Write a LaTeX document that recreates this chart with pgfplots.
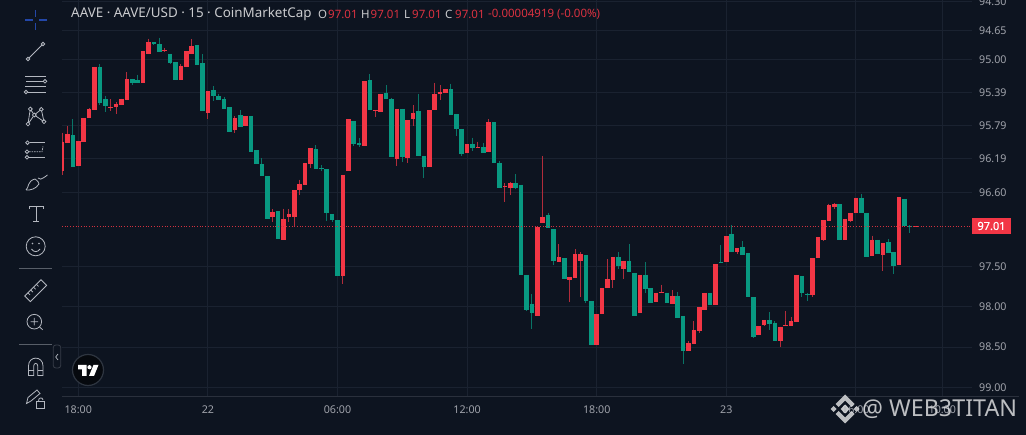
\documentclass[border=0pt]{standalone}
\usepackage{fontspec}
\setmainfont{Noto Sans}
\newfontfamily\plabel[FakeBold=0.5]{Noto Sans}
\usepackage{pgfplots}
\usepackage{pgfplotstable}
\pgfplotsset{compat=1.18}
\definecolor{bg}{HTML}{0D1420}
\definecolor{gridc}{HTML}{1A2230}
\definecolor{up}{HTML}{089981}
\definecolor{dn}{HTML}{F23645}
\definecolor{axt}{HTML}{A0A3AB}
\definecolor{icon}{HTML}{B4B8C0}
\definecolor{cross}{HTML}{2347A8}
\definecolor{rulec}{HTML}{2A303C}
\pgfplotstableread{
x lo bl bh hi
-1 95.71 95.90 96.28 96.28
4 95.05 95.08 95.51 95.54
5 95.43 95.47 95.55 95.62
10 95.22 95.23 95.27 95.30
11 95.17 95.24 95.27 95.27
14 94.78 94.78 94.80 94.82
15 94.73 94.81 94.90 94.90
17 94.92 94.92 95.04 95.05
18 95.02 95.02 95.24 95.24
22 94.82 94.82 95.06 95.06
23 94.93 95.04 95.61 95.61
25 95.31 95.36 95.43 95.49
26 95.40 95.43 95.48 95.48
27 95.44 95.47 95.58 95.58
28 95.56 95.56 95.86 95.86
30 95.60 95.66 95.81 95.81
32 95.67 95.67 96.10 96.10
33 96.08 96.08 96.25 96.25
34 96.18 96.25 96.39 96.39
35 96.40 96.40 96.92 96.92
37 96.82 96.82 97.16 97.16
44 96.02 96.07 96.31 96.31
45 96.26 96.30 96.31 96.33
46 96.31 96.31 96.85 96.94
47 96.86 96.86 96.93 96.96
48 96.93 96.93 97.61 97.61
51 95.73 95.73 96.01 96.03
52 95.94 95.99 96.02 96.04
54 95.16 95.24 95.59 95.59
57 95.30 95.39 95.46 95.46
58 95.45 95.47 96.17 96.17
60 95.58 95.58 96.17 96.22
63 95.40 95.61 96.15 96.15
64 96.15 96.15 96.28 96.41
69 95.28 95.35 95.66 95.66
70 95.65 95.65 95.82 95.91
71 95.82 95.82 96.13 96.15
73 95.93 96.01 96.06 96.09
75 95.99 96.04 96.12 96.12
77 95.75 95.75 96.24 96.24
78 96.21 96.23 96.54 96.54
81 96.37 96.48 96.54 96.55
82 96.50 96.50 97.60 97.60
83 97.60 97.60 98.04 98.05
84 97.84 97.96 98.07 98.27
87 96.84 96.87 97.03 97.03
88 97.04 97.04 97.43 97.48
90 97.40 97.40 97.65 97.65
94 97.36 97.36 97.93 97.95
95 97.92 97.92 98.47 98.47
100 97.32 97.39 97.50 97.53
102 97.22 97.43 97.57 97.57
103 97.58 97.58 98.11 98.11
105 97.45 97.60 97.78 97.82
106 97.76 97.76 97.95 97.95
109 97.82 97.82 97.95 97.95
111 97.81 97.86 98.13 98.13
112 98.11 98.11 98.54 98.71
117 97.83 97.83 97.97 97.97
119 97.24 97.44 97.45 97.45
121 96.99 97.10 97.33 97.33
123 97.19 97.26 97.36 97.36
124 97.34 97.34 97.87 97.87
125 97.88 97.88 98.37 98.38
128 98.06 98.16 98.21 98.28
129 98.17 98.19 98.42 98.42
134 97.62 97.62 97.83 97.88
135 97.82 97.84 97.85 97.92
141 96.74 96.74 97.17 97.17
145 96.61 96.66 96.84 96.84
146 96.84 96.84 97.38 97.38
148 97.17 97.17 97.35 97.35
150 97.16 97.20 97.34 97.34
151 97.33 97.33 97.50 97.59
153 96.67 96.67 97.00 97.00
154 96.99 97.00 97.01 97.09
}\grn
\pgfplotstableread{
x lo bl bh hi
-3 95.87 95.98 96.33 96.38
-2 95.79 95.89 95.99 95.99
0 95.97 95.97 96.27 96.27
1 95.69 95.69 95.98 95.98
2 95.57 95.58 95.69 95.69
3 95.08 95.08 95.59 95.59
6 95.47 95.56 95.57 95.61
7 95.50 95.52 95.56 95.65
8 95.46 95.46 95.54 95.54
9 95.14 95.23 95.48 95.48
12 94.89 94.89 95.27 95.27
13 94.74 94.78 94.92 94.92
16 94.85 94.88 94.89 94.90
19 95.05 95.07 95.24 95.24
20 94.89 94.89 95.08 95.08
21 94.75 94.83 94.92 94.92
24 95.37 95.37 95.64 95.71
29 95.67 95.69 95.84 95.88
31 95.67 95.67 95.79 95.79
36 96.80 96.83 96.89 96.96
38 96.79 96.92 97.17 97.17
39 96.80 96.86 96.89 96.96
40 96.57 96.57 96.89 97.00
41 96.44 96.49 96.57 96.63
42 96.24 96.24 96.50 96.50
43 96.06 96.06 96.25 96.30
49 96.38 96.38 97.62 97.71
50 95.71 95.71 96.34 96.34
53 95.25 95.25 96.03 96.03
55 95.60 95.60 95.61 95.68
56 95.40 95.40 95.62 95.62
59 95.58 95.58 96.19 96.27
61 95.72 95.72 96.18 96.24
62 95.54 95.64 95.70 95.79
65 95.60 95.60 96.28 96.28
66 95.27 95.41 95.60 95.60
67 95.30 95.38 95.41 95.48
68 95.35 95.35 95.39 95.39
72 96.01 96.01 96.12 96.12
74 95.98 96.04 96.05 96.06
76 95.71 95.75 96.11 96.11
79 96.48 96.51 96.52 96.71
80 96.47 96.48 96.54 96.63
85 97.02 97.02 98.11 98.11
86 96.15 96.89 96.97 96.97
89 97.23 97.39 97.45 97.45
91 97.63 97.63 97.67 97.94
92 97.29 97.35 97.64 97.64
93 97.33 97.35 97.43 97.88
96 98.09 98.09 98.47 98.47
97 97.77 97.77 98.09 98.09
98 97.41 97.65 97.77 97.77
99 97.38 97.38 97.67 97.76
101 97.43 97.43 97.53 97.65
104 97.60 97.60 98.08 98.08
107 97.82 97.82 97.94 97.94
108 97.72 97.81 97.83 97.83
110 97.79 97.86 97.96 97.96
113 98.42 98.44 98.54 98.54
114 98.17 98.28 98.45 98.45
115 98.00 98.00 98.29 98.32
116 97.82 97.82 98.03 98.03
118 97.47 97.47 97.97 97.97
120 97.13 97.13 97.45 97.45
122 97.27 97.27 97.33 97.35
126 98.23 98.23 98.35 98.35
127 98.16 98.16 98.22 98.23
130 98.24 98.24 98.42 98.49
131 98.05 98.22 98.23 98.23
132 98.12 98.17 98.23 98.23
133 97.60 97.60 98.18 98.18
136 97.40 97.40 97.85 97.87
137 97.14 97.14 97.40 97.40
138 96.93 96.93 97.17 97.18
139 96.73 96.75 96.94 96.94
140 96.72 96.73 96.77 96.80
142 96.92 96.92 97.17 97.17
143 96.84 96.84 96.94 96.96
144 96.66 96.66 96.84 96.84
147 97.12 97.17 97.37 97.37
149 97.21 97.21 97.36 97.55
152 96.65 96.65 97.48 97.48
155 97.01 97.01 97.02 97.02
}\rdd
% one wick and one body per table row, drawn through the axis
\newcommand\candles[3]{%
  \pgfplotstablegetrowsof{#1}\pgfmathtruncatemacro\nr{\pgfplotsretval-1}%
  \foreach \r in {0,...,\nr}{%
    \pgfplotstablegetelem{\r}{x}\of{#1}\let\cx\pgfplotsretval
    \pgfplotstablegetelem{\r}{lo}\of{#1}\let\clo\pgfplotsretval
    \pgfplotstablegetelem{\r}{bl}\of{#1}\let\cbl\pgfplotsretval
    \pgfplotstablegetelem{\r}{bh}\of{#1}\let\cbh\pgfplotsretval
    \pgfplotstablegetelem{\r}{hi}\of{#1}\let\chi\pgfplotsretval
    \edef\temp{%
      \noexpand\addplot[forget plot,mark=none,draw=#3,line width=1pt] coordinates {(\cx,\clo)(\cx,\chi)};
      \noexpand\addplot[forget plot,mark=none,draw=#2,line width=4.6pt] coordinates {(\cx,\cbl)(\cx,\cbh)};
    }\temp
  }%
}
\begin{document}
\begin{tikzpicture}[x=1pt,y=1pt]
\useasboundingbox (0,0) rectangle (1026,435);
\clip (0,0) rectangle (1026,435);
\fill[bg] (0,0) rectangle (1026,435);
\begin{axis}[
  at={(62pt,39pt)},anchor=south west,
  width=910pt,height=396pt,scale only axis,
  xmin=-3.0185,xmax=165.5,
  y coord trafo/.code={\pgfmathparse{1000*ln(#1)}},
  y dir=reverse,ymin=94.284,ymax=99.112,
  axis line style={draw=none},
  major tick length=0pt,
  minor tick num=0,
  grid=major,
  grid style={gridc,line width=1pt},
  xtick={0,24,48,72,96,120,144,160},
  xticklabels={18:00,22,06:00,12:00,18:00,23,06:00,10:00},
  ytick={94.30,94.65,95.00,95.39,95.79,96.19,96.60,97.50,98.00,98.50,99.00},
  yticklabels={94.30,94.65,95.00,95.39,95.79,96.19,96.60,97.50,98.00,98.50,99.00},
  yticklabel pos=right,
  y tick label style={anchor=west,font=\fontsize{10.7}{12}\selectfont,text=axt,xshift=7pt,inner xsep=0pt},
  x tick label style={anchor=north,font=\fontsize{10.7}{12}\selectfont,text=axt,yshift=-9.5pt,inner ysep=0pt},
]
\candles{\grn}{up}{up!72!bg}
\candles{\rdd}{dn}{dn!72!bg}
\addplot[forget plot,dn!85!bg,line width=1pt,dash pattern=on 1pt off 1.7pt] coordinates {(-3.0185,97.01)(165.5,97.01)};
\end{axis}
\begin{scope}[shift={(0,435)},yscale=-1]
% lower rule
\draw[color=rulec,line width=.8pt] (62,396) -- (1019,396);
% price label
\fill[dn] (972,218.3) rectangle (1011,233.7);
\node[text=white,font=\plabel\fontsize{11}{12}\selectfont,inner sep=0pt] at (991.5,226) {97.01};
% header
\node[anchor=west,text=white!78!bg,font=\fontsize{13.4}{15}\selectfont,inner sep=0pt] at (71,14) {AAVE · AAVE/USD · 15 · CoinMarketCap};
\foreach \xa/\la/\xb in {318/O/328,361/H/370.5,404/L/412,445/C/455}{
  \node[anchor=west,text=white!78!bg,font=\fontsize{11.5}{14}\selectfont,inner sep=0pt] at (\xa,14) {\la};
  \node[anchor=west,text=dn!90!bg,font=\fontsize{11.5}{14}\selectfont,inner sep=0pt] at (\xb,14) {97.01};
}
\node[anchor=west,text=dn!90!bg,font=\fontsize{11.5}{14}\selectfont,inner sep=0pt] at (488,14) {-0.00004919 (-0.00\%)};
% toolbar
\draw[color=cross,line width=1.3pt] (25,20)--(33,20) (39,20)--(47,20) (35.8,10)--(35.8,17) (35.8,23)--(35.8,30);
\begin{scope}[draw=icon,line width=.8pt]
\draw (29.2,57.8)--(41.8,45.2);
\draw (28,59) circle (1.8) (43,44) circle (1.8);
\draw (25,76)--(46,76) (26,81.3)--(43,81.3) (25,86.7)--(46,86.7) (28,92)--(46,92);
\draw (45,81.3) circle (1.8) (26,92) circle (1.8);
\draw (30.3,109)--(28,124)--(34.3,115)--(30.3,109) (34.3,115)--(41.3,109.3)--(44,121.7)--(34.3,115);
\foreach \p in {(30.3,109),(41.3,109.3),(34.3,115),(28,124),(44,121.7)} \filldraw[fill=bg] \p circle (1.9);
\draw (29.5,142.7)--(45,142.7) (29,157.3)--(45,157.3);
\draw[dash pattern=on 1.5pt off 1pt] (29,151.7)--(42,151.7)--(43,146.5);
\draw (27.5,142.7) circle (1.8) (27,151.7) circle (1.8) (27,157.3) circle (1.8);
\draw (26,190) .. controls (29,188) and (27,181) .. (35,179) .. controls (38,181) and (39,183) .. (39,184) .. controls (36,189) and (30,190.5) .. (26,190) (38,178) .. controls (39,180) and (41,180) .. (47.5,175);
\draw (29,209)--(29,206)--(43,206)--(43,209) (36,206)--(36,221) (33,221)--(39,221);
\draw (35.7,246.3) circle (9.5);
\fill[icon] (32.5,243.5) circle (.9) (39,243.5) circle (.9);
\draw (31.5,249) .. controls (33.5,252.5) and (38,252.5) .. (40,249);
\begin{scope}[shift={(35.7,290.7)},rotate=-45]
\draw (-11.5,-4) rectangle (11.5,4);
\foreach \t in {-7,-3,1,5} \draw (\t,-4)--(\t,-1);
\end{scope}
\draw (34.3,321.7) circle (7.3) (34.3,318)--(34.3,325.4) (30.6,321.7)--(38,321.7) (39.5,326.9)--(42.7,329.8);
\draw (28.5,375.5)--(28.5,366) .. controls (28.5,355.5) and (43,355.5) .. (43,366)--(43,375.5)--(37.8,375.5)--(37.8,366) .. controls (37.8,362.5) and (33.7,362.5) .. (33.7,366)--(33.7,375.5)--cycle (28.5,370.5)--(33.7,370.5) (37.8,370.5)--(43,370.5);
\draw (26.5,403.5)--(28,397.5)--(37,390)--(40,393.5)--(31,401)--cycle;
\draw (36.5,401.5) rectangle (44.5,408.5) (38.5,401.5) .. controls (38,397) and (43,397) .. (43,400);
\end{scope}
\draw[color=icon!45!bg,line width=.8pt] (19,268.3)--(52,268.3) (19,344.3)--(52,344.3);
\draw[color=icon!25!bg,line width=.8pt,rounded corners=2.5pt] (53.3,345) rectangle (60.7,368);
\draw[color=icon,line width=.7pt] (58,354)--(55.7,357)--(58,360);
% logo
\filldraw[fill=black!55!bg,draw=icon!20!bg,line width=1.2pt] (88,370) circle (15.5);
\fill[white] (78,365)--(86.5,365)--(86.5,376)--(82,376)--(82,369.5)--(78,369.5)--cycle;
\fill[white] (89.5,367.2) circle (2.1);
\fill[white] (93.5,365)--(98.5,365)--(94,376)--(89,376)--cycle;
% watermark
\begin{scope}[shift={(845,409)},fill=white!85!bg,opacity=.85]
\fill (-4.5,0)--(0,-4.5)--(4.5,0)--(0,4.5)--cycle;
\fill (-14.5,0)--(-11.5,-3)--(-8.5,0)--(-11.5,3)--cycle;
\fill (14.5,0)--(11.5,-3)--(8.5,0)--(11.5,3)--cycle;
\fill (-9.5,-5)--(0,-14.5)--(9.5,-5)--(6.5,-2)--(0,-8.5)--(-6.5,-2)--cycle;
\fill (-9.5,5)--(0,14.5)--(9.5,5)--(6.5,2)--(0,8.5)--(-6.5,2)--cycle;
\end{scope}
\node[anchor=west,text=white!85!bg,opacity=.85,font=\fontsize{23.3}{26}\selectfont,inner sep=0pt] at (862,409) {@ WEB3TITAN};
\end{scope}
\end{tikzpicture}
\end{document}
